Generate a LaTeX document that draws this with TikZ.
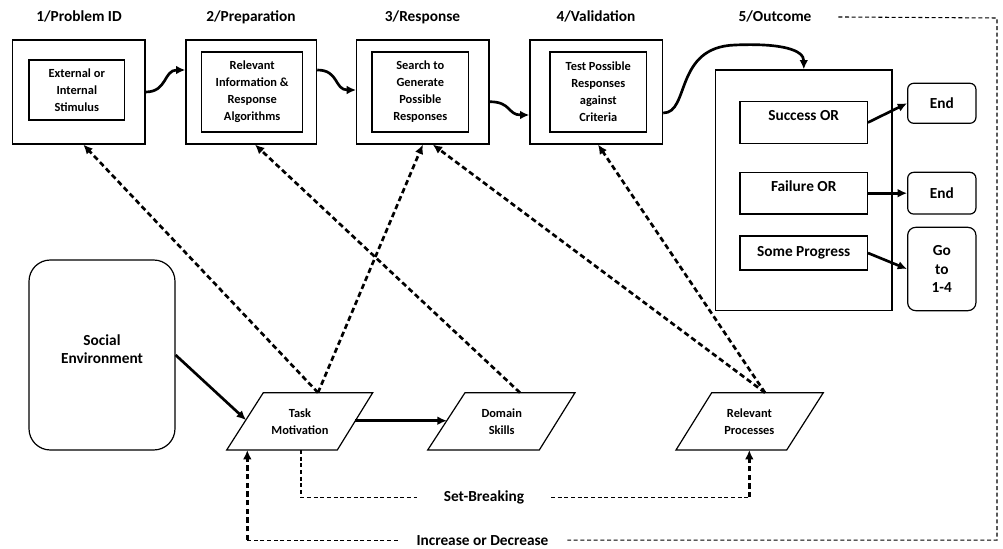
\documentclass[tikz,border=0pt]{standalone}
\usepackage{fontspec}
\setmainfont{Carlito}
\usetikzlibrary{arrows.meta,calc}
\begin{document}
\begin{tikzpicture}[x=0.75pt,y=-0.75pt,
  frame/.style={draw, line width=0.9pt, inner sep=0pt, align=center},
  bigtext/.style={font=\bfseries\fontsize{11.5}{13.9}\selectfont},
  smalltext/.style={font=\bfseries\fontsize{9.3}{12.75}\selectfont},
  flow/.style={line width=2pt, -{Latex[length=7pt,width=6.5pt]}},
  link/.style={line width=2pt, dash pattern=on 4pt off 2.5pt, -{Latex[length=7pt,width=6.5pt]}},
  guide/.style={line width=0.8pt, dash pattern=on 3pt off 2pt},
  title/.style={bigtext, anchor=base, inner sep=0pt},
]
\useasboundingbox (0,0) rectangle (1003,549);

% stage titles
\node[title] (t1) at (79,22) {1/Problem ID};
\node[title] (t2) at (251,22) {2/Preparation};
\node[title] (t3) at (422.5,22) {3/Response};
\node[title] (t4) at (596,22) {4/Validation};
\node[title] (t5) at (775,22) {5/Outcome};

% stage boxes 1-4 with inner boxes
\node[frame, minimum width=99.2pt, minimum height=78pt] (b1) at (78.8,92) {};
\node[frame, smalltext, minimum width=71.8pt, minimum height=45pt] (i1) at (76.8,90) {External or\\Internal\\Stimulus};
\node[frame, minimum width=98pt, minimum height=78pt] (b2) at (251.3,92) {};
\node[frame, smalltext, minimum width=75.75pt, minimum height=60pt] (i2) at (252.2,92) {Relevant\\Information \&\\Response\\Algorithms};
\node[frame, minimum width=99.2pt, minimum height=78pt] (b3) at (422.8,92) {};
\node[frame, smalltext, minimum width=72.5pt, minimum height=60pt] (i3) at (420.3,92) {Search to\\Generate\\Possible\\Responses};
\node[frame, minimum width=99.5pt, minimum height=78pt] (b4) at (596.3,92) {};
\node[frame, smalltext, minimum width=72.5pt, minimum height=60pt] (i4) at (598.3,92) {Test Possible\\Responses\\against\\Criteria};

% outcome box
\node[frame, minimum width=132.2pt, minimum height=180.5pt] (b5) at (803.8,190.3) {};
\node[frame, bigtext, minimum width=95.5pt, minimum height=31.2pt, text depth=11pt] (succ) at (803.7,122.5) {Success OR};
\node[frame, bigtext, minimum width=95.5pt, minimum height=31.3pt, text depth=11pt] (fail) at (803.7,193.2) {Failure OR};
\node[frame, bigtext, minimum width=95.5pt, minimum height=25.5pt] (prog) at (803.7,253) {Some Progress};
\node[frame, bigtext, rounded corners=4.5pt, minimum width=51.2pt, minimum height=30pt] (end1) at (941.8,103.3) {End};
\node[frame, bigtext, rounded corners=4.5pt, minimum width=51.2pt, minimum height=31.3pt] (end2) at (941.8,193.2) {End};
\node[frame, bigtext, rounded corners=6pt, minimum width=51.2pt, minimum height=62.5pt] (go) at (941.8,269) {Go\\to\\1-4};

% social environment
\node[frame, bigtext, rounded corners=16pt, minimum width=109.5pt, minimum height=142.5pt, text depth=9pt] (se) at (102,355) {Social\\Environment};

% parallelograms
\draw[line width=0.9pt] (226.7,450) -- (263.3,392.7) -- (372.7,392.7) -- (337.3,450) -- cycle;
\node[smalltext, align=center] (tm) at (300,421.3) {Task\\Motivation};
\draw[line width=0.9pt] (427.7,450) -- (465,392.7) -- (575,392.7) -- (539.3,450) -- cycle;
\node[smalltext, align=center] (ds) at (501.7,421.3) {Domain\\Skills};
\draw[line width=0.9pt] (676,450) -- (711.7,392.7) -- (823.3,392.7) -- (786.7,450) -- cycle;
\node[smalltext, align=center] (rp) at (749.4,421.3) {Relevant\\Processes};

\coordinate (tmtop) at (318,392.7);
\coordinate (tmleft) at (246,420);
\coordinate (tmright) at (355.4,420.7);
\coordinate (tmbot) at (301,450);
\coordinate (tmbotl) at (247.3,450);
\coordinate (dstop) at (520,392.7);
\coordinate (dsleft) at (446.8,420.7);
\coordinate (rptop) at (765,392.7);
\coordinate (rpbot) at (749.3,450);

% main flow
\draw[flow] (b1.east) .. controls +(22,0) and +(-22,0) .. ([yshift=16.5pt]b2.west);
\draw[flow] ([yshift=16.5pt]b2.east) .. controls +(22,0) and +(-22,0) .. ([yshift=1.5pt]b3.west);
\draw[flow] ([yshift=-7.3pt]b3.east) .. controls +(22,0) and +(-22,0) .. ([yshift=-17.25pt]b4.west);
\draw[flow] ([yshift=-15.75pt]b4.east) .. controls (690,113) and (674,47) .. (735,45)
            .. controls (782,43) and (803.8,50) .. (b5.north);

% outcomes
\draw[flow] (succ.east) -- (end1.west);
\draw[flow] (fail.east) -- (end2.west);
\draw[flow] (prog.east) -- (go.west);

% influences
\draw[flow] (se.east) -- (tmleft);
\draw[flow] (tmright) -- (dsleft);
\draw[link] (tmtop) -- ([xshift=3.4pt]b1.south);
\draw[link] (tmtop) -- (b3.south);
\draw[link] (dstop) -- ([xshift=2.8pt]b2.south);
\draw[link] (rptop) -- ([xshift=7.5pt]b3.south);
\draw[link] (rptop) -- ([xshift=1.3pt]b4.south);

% feedback labels and loops
\node[bigtext, anchor=base, inner xsep=20pt] (sb) at (484,501.5) {Set-Breaking};
\node[bigtext, anchor=base, inner xsep=14pt] (id) at (482.5,545) {Increase or Decrease};

\draw[guide] (tmbot) |- (sb.west);
\coordinate (sbc) at (rpbot |- sb.east);
\draw[guide] (sb.east) -- (sbc);
\draw[link] (sbc) -- (rpbot);

\coordinate (oc1) at (997,18);
\draw[guide] ([xshift=20pt]t5.east) -- (oc1) |- (id.east);
\coordinate (idc) at (tmbotl |- id.west);
\draw[guide] (id.west) -- (idc);
\draw[link] (idc) -- (tmbotl);
\end{tikzpicture}
\end{document}
